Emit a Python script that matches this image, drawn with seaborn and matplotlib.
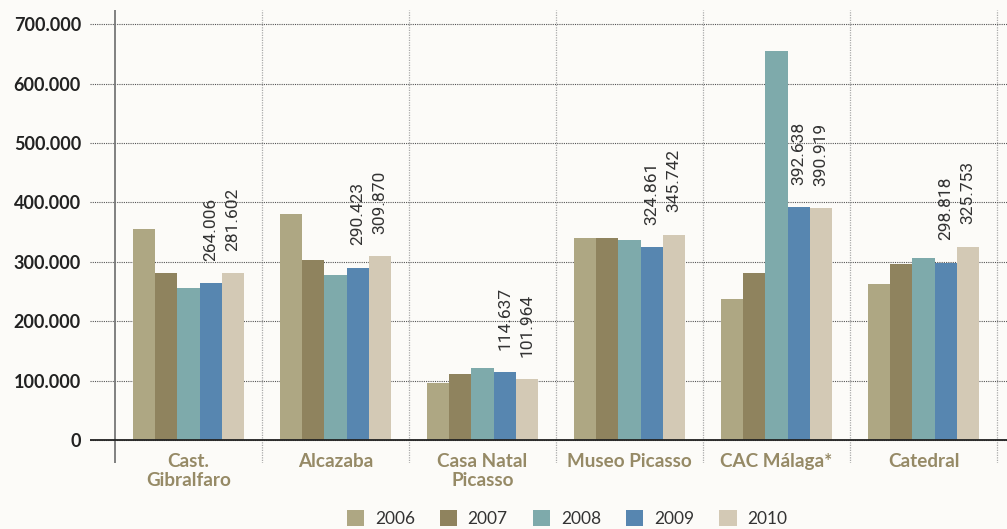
import numpy as np
import pandas as pd
import seaborn as sns
import matplotlib.pyplot as plt
from matplotlib.ticker import FuncFormatter

# data
categories = ["Cast.\nGibralfaro", "Alcazaba", "Casa Natal\nPicasso",
              "Museo Picasso", "CAC Málaga*", "Catedral"]
years = ["2006", "2007", "2008", "2009", "2010"]
v2006 = [355000, 380000, 96000, 340000, 237000, 263000]
v2007 = [281000, 303000, 111000, 340000, 281000, 296000]
v2008 = [256000, 278000, 121000, 336000, 655000, 306000]
v2009 = [264006, 290423, 114637, 324861, 392638, 298818]
v2010 = [281602, 309870, 101964, 345742, 390919, 325753]
colors = ["#aea783", "#8f835e", "#7eaaab", "#5786b0", "#d3c9b5"]

series = [v2006, v2007, v2008, v2009, v2010]
df = pd.DataFrame({
    "cat": [c for s in series for c in categories],
    "year": [y for y, s in zip(years, series) for _ in s],
    "val": [v for s in series for v in s],
})

bg = "#fcfbf8"
sns.set_theme(style="white")
plt.rcParams["font.family"] = ["Lato", "DejaVu Sans"]

fig = plt.figure(figsize=(10.07, 5.29), dpi=100, facecolor=bg)
ax = fig.add_axes([0.0894, 0.1248, 0.9106, 0.8562])
ax.set_facecolor(bg)

sns.barplot(data=df, x="cat", y="val", hue="year", order=categories,
            hue_order=years, palette=colors, width=0.76, saturation=1,
            linewidth=0, ax=ax)

ax.set_xlim(-0.67, 5.568)
ax.set_ylim(-38700, 724000)
for s in ax.spines.values():
    s.set_visible(False)

# grid
ax.set_yticks(np.arange(0, 700001, 100000))
ax.yaxis.set_major_formatter(FuncFormatter(lambda v, p: f"{int(v):,}".replace(",", ".")))
ax.grid(axis="y", linestyle=(0, (1, 1)), color="#555555", linewidth=0.8)
ax.grid(axis="x", visible=False)
ax.set_axisbelow(True)
for xv in np.arange(0.5, 5.6, 1.0):
    ax.axvline(xv, color="#aaaaaa", linestyle=(0, (1, 1)), linewidth=0.9, zorder=0.5)
ax.axvline(-0.5, color="#777777", linewidth=1.3, zorder=3)
ax.axhline(0, color="#222222", linewidth=1.3, zorder=3)

ax.tick_params(axis="y", length=0, pad=6.5, labelsize=13, labelcolor="#222222")
ax.tick_params(axis="x", length=0, pad=-7, labelsize=13.6, labelcolor="#968a66")
for t in ax.get_yticklabels():
    t.set_fontweight("bold")
for t in ax.get_xticklabels():
    t.set_fontweight("bold")
    t.set_linespacing(1.1)
ax.set_xlabel("")
ax.set_ylabel("")

# value labels on 2009 and 2010 bars
for cont in ax.containers[3:5]:
    for bar in cont:
        h = bar.get_height()
        ax.annotate(f"{int(h):,}".replace(",", "."),
                    (bar.get_x() + bar.get_width() / 2, h),
                    xytext=(0, 16), textcoords="offset points",
                    rotation=90, ha="center", va="bottom",
                    fontsize=12.5, color="#333333", family=["Roboto", "DejaVu Sans"],
                    fontweight="normal")

handles, labels = ax.get_legend_handles_labels()
ax.legend_.remove()
fig.legend(handles, labels, loc="center", bbox_to_anchor=(0.563, 0.02), ncol=5,
           frameon=False, fontsize=12.5, handlelength=1.0, handleheight=1.0,
           columnspacing=1.45, handletextpad=0.6, labelcolor="#333333")

fig.savefig("out.png", dpi=100, facecolor=bg)
